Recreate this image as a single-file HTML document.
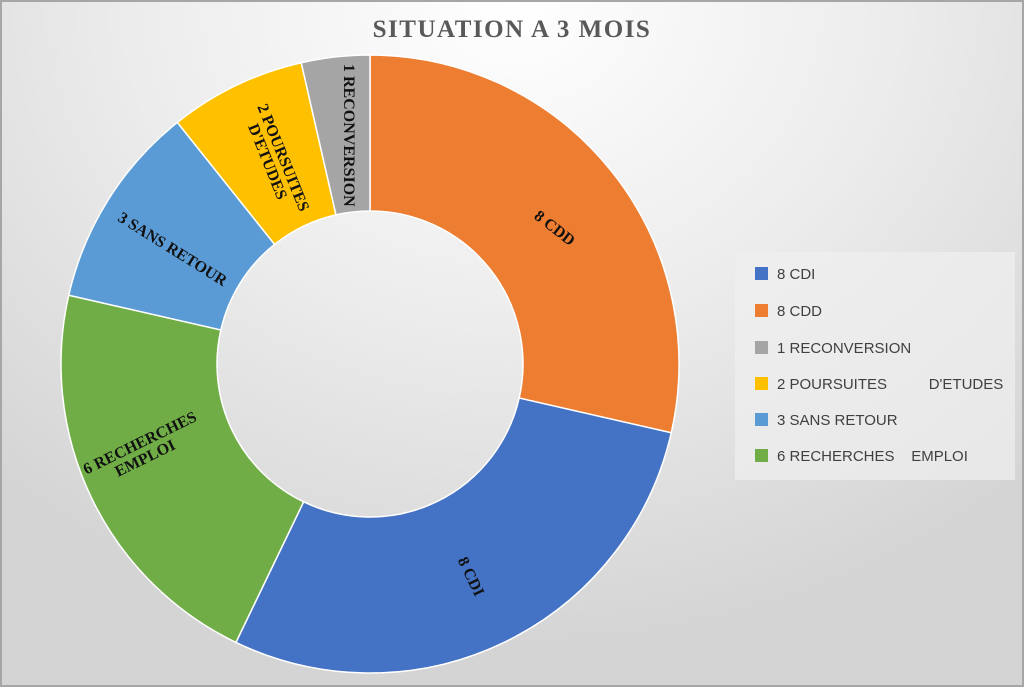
<!DOCTYPE html>
<html><head><meta charset="utf-8"><style>
body{margin:0;width:1024px;height:687px;overflow:hidden}
#c{position:absolute;left:0;top:0;width:1020px;height:683px;border:2px solid #a6a6a6;background:radial-gradient(ellipse 75% 95% at 50% 0%,#ffffff 0%,#ececec 50%,#d4d4d4 100%)}
.t{position:absolute;font-family:"Liberation Serif",serif;font-weight:bold;font-size:16px;color:#111;text-align:center;line-height:16px;white-space:nowrap;transform-origin:center}
#legend{position:absolute;left:733px;top:250px;width:280px;height:228px;background:rgba(240,240,240,0.7)}
.li{position:absolute;left:20px;font-family:"Liberation Sans",sans-serif;font-size:15px;color:#404040;white-space:pre}
.li span{display:inline-block;width:13px;height:13px;margin-right:9px;vertical-align:-1px}
</style></head><body>
<div id="c">
<div style="position:absolute;left:0;width:1020px;top:14px;text-align:center;font-family:'Liberation Serif',serif;font-weight:bold;font-size:25px;letter-spacing:1.5px;color:#595959">SITUATION A 3 MOIS</div>
<svg id="s" width="1020" height="683" style="position:absolute;left:0;top:0"></svg>
<div class="t" style="left:502px;top:219px;width:100px;transform:rotate(38deg)">8 CDD</div>
<div class="t" style="left:418px;top:567px;width:100px;transform:rotate(64deg)">8 CDI</div>
<div class="t" style="left:80px;top:434px;width:120px;transform:rotate(-26deg)">6 RECHERCHES<br>EMPLOI</div>
<div class="t" style="left:90px;top:240px;width:160px;transform:rotate(32deg)">3 SANS RETOUR</div>
<div class="t" style="left:217px;top:141px;width:110px;transform:rotate(68deg)">2 POURSUITES<br>D'ETUDES</div>
<div class="t" style="left:276px;top:124px;width:140px;transform:rotate(90deg)">1 RECONVERSION</div>
<div id="legend">
<div class="li" style="top:14px"><span style="background:#4472c4"></span>8 CDI</div>
<div class="li" style="top:51px"><span style="background:#ed7d31"></span>8 CDD</div>
<div class="li" style="top:88px"><span style="background:#a5a5a5"></span>1 RECONVERSION</div>
<div class="li" style="top:124px"><span style="background:#ffc000"></span>2 POURSUITES          D'ETUDES</div>
<div class="li" style="top:160px"><span style="background:#5b9bd5"></span>3 SANS RETOUR</div>
<div class="li" style="top:196px"><span style="background:#70ad47"></span>6 RECHERCHES    EMPLOI</div>
</div>
</div>
<script>
const categories=["8 CDD","8 CDI","6 RECHERCHES EMPLOI","3 SANS RETOUR","2 POURSUITES D'ETUDES","1 RECONVERSION"];
const values=[8,8,6,3,2,1];
const colors=["#ed7d31","#4472c4","#70ad47","#5b9bd5","#ffc000","#a5a5a5"];
const cx=368,cy=362,R=309,r=153;
const total=values.reduce((a,b)=>a+b,0);
const svg=document.getElementById('s');
function pt(a,rad){return [cx+rad*Math.sin(a),cy-rad*Math.cos(a)];}
let acc=0;
values.forEach((v,i)=>{
 const a0=acc/total*2*Math.PI;acc+=v;const a1=acc/total*2*Math.PI;
 const lg=(a1-a0)>Math.PI?1:0;
 const p0=pt(a0,R),p1=pt(a1,R),q1=pt(a1,r),q0=pt(a0,r);
 const p=document.createElementNS('http://www.w3.org/2000/svg','path');
 p.setAttribute('d',`M${p0[0]},${p0[1]}A${R},${R} 0 ${lg} 1 ${p1[0]},${p1[1]}L${q1[0]},${q1[1]}A${r},${r} 0 ${lg} 0 ${q0[0]},${q0[1]}Z`);
 p.setAttribute('fill',colors[i]);p.setAttribute('stroke','#fff');p.setAttribute('stroke-width','1.5');
 
 
 svg.appendChild(p);
});
</script>
</body></html>
